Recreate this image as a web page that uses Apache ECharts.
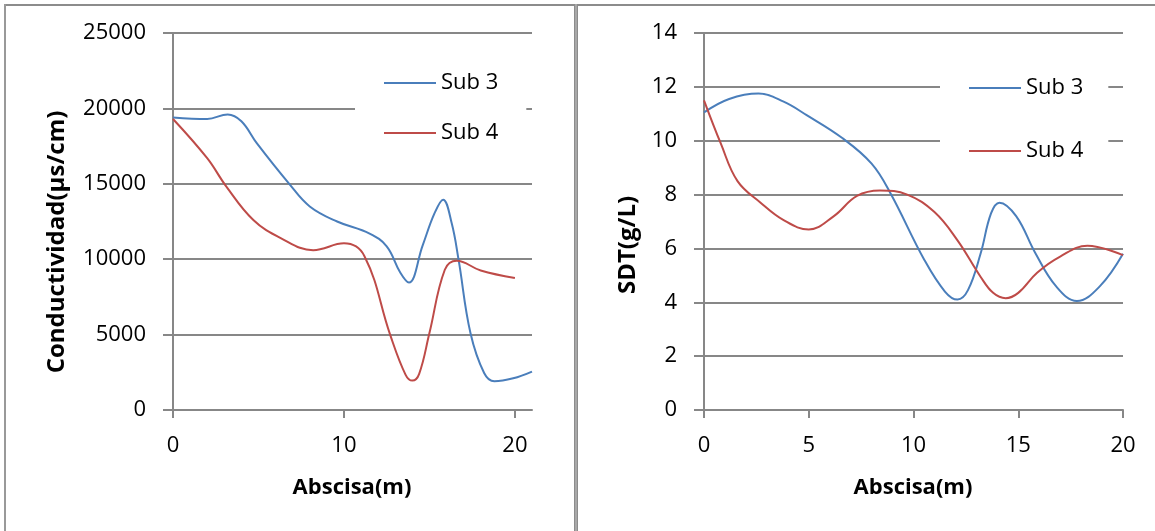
<!DOCTYPE html>
<html>
<head>
<meta charset="utf-8">
<script src="https://cdn.jsdelivr.net/npm/echarts@6/dist/echarts.min.js"></script>
<style>
  html, body { margin: 0; padding: 0; background: #fff; }
  #chart { width: 1155px; height: 531px; }
</style>
</head>
<body>
<div id="chart"></div>
<script>
// Conductividad (µs/cm) vs abscisa (m)
const condX_sub3 = [0, 2, 3.2, 4, 4.9, 6.8, 8, 9.6, 11.5, 12.5, 13.3, 13.8, 14.6, 15.3, 15.8, 16.3, 16.7, 17.4, 18.2, 18.8, 19.9, 21];
const condY_sub3 = [19400, 19300, 19600, 19150, 17700, 15000, 13500, 12500, 11700, 10850, 9100, 8450, 10900, 13050, 13950, 12400, 10000, 5100, 2450, 1900, 2100, 2550];
const condX_sub4 = [0, 2, 3.1, 4.7, 6.3, 8.2, 10, 11.2, 12.7, 13.6, 14, 14.4, 15, 15.9, 16.6, 18, 20];
const condY_sub4 = [19300, 16700, 14850, 12600, 11400, 10600, 11050, 10200, 5000, 2350, 1950, 2400, 5100, 9300, 9900, 9250, 8750];

// SDT (g/L) vs abscisa (m)
const sdtX_sub3 = [0, 1.2, 2.6, 3.8, 4.9, 6.6, 8, 8.9, 10.5, 11.5, 12.1, 12.6, 13.2, 13.7, 14.1, 14.9, 15.8, 16.8, 17.8, 18.9, 20];
const sdtY_sub3 = [11.05, 11.55, 11.75, 11.45, 10.95, 10.1, 9.15, 8.05, 5.6, 4.4, 4.1, 4.45, 5.8, 7.3, 7.7, 7.2, 5.85, 4.6, 4.05, 4.6, 5.8];
const sdtX_sub4 = [0, 0.8, 1.6, 2.7, 3.8, 5, 6.2, 7.3, 8.4, 9.7, 11, 12.1, 13.2, 13.8, 14.4, 15, 15.9, 17, 18.3, 20];
const sdtY_sub4 = [11.5, 9.9, 8.5, 7.7, 7.05, 6.7, 7.2, 7.95, 8.15, 8.0, 7.35, 6.3, 4.95, 4.35, 4.15, 4.35, 5.1, 5.7, 6.1, 5.75];

const condXTicks = [0, 10, 20];
const sdtXTicks = [0, 5, 10, 15, 20];
const seriesNames = ['Sub 3', 'Sub 4'];

const xTitle = 'Abscisa(m)';
const condTitle = 'Conductividad(µs/cm)';
const sdtTitle = 'SDT(g/L)';

const zip = (xs, ys) => xs.map((x, i) => [x, ys[i]]);

const FONT = 'Open Sans';
const GRAY = '#878787';
const BLUE = '#4A7EBB';
const RED = '#BE4B48';

const chart = echarts.init(document.getElementById('chart'), null, { renderer: 'canvas' });

function valueXAxis(gridIndex, max, interval, ticks) {
  return {
    type: 'value', gridIndex, min: 0, max, interval,
    axisLine: { show: true, lineStyle: { color: GRAY, width: 2 } },
    axisTick: { show: true, length: 8, customValues: ticks, lineStyle: { color: GRAY, width: 2 } },
    axisLabel: { customValues: ticks, margin: 25, fontFamily: FONT, fontSize: 22, color: '#000',
                 formatter: v => String(v) },
    splitLine: { show: false }
  };
}
function valueYAxis(gridIndex, max, interval) {
  return {
    type: 'value', gridIndex, min: 0, max, interval,
    axisLine: { show: true, lineStyle: { color: GRAY, width: 2 } },
    axisTick: { show: true, length: 10, lineStyle: { color: GRAY, width: 2 } },
    axisLabel: { margin: 27, fontFamily: FONT, fontSize: 22, color: '#000',
                 formatter: v => String(v) },
    splitLine: { show: true, lineStyle: { color: GRAY, width: 2 } }
  };
}
function lineSeries(name, color, idx, data) {
  return {
    name, type: 'line', xAxisIndex: idx, yAxisIndex: idx, data,
    smooth: 0.4, symbol: 'none', showSymbol: false,
    lineStyle: { color, width: 2 }, itemStyle: { color },
    emphasis: { disabled: true }
  };
}
function legendAt(left, top, gap, padRight) {
  return {
    data: seriesNames, orient: 'vertical', left, top,
    itemWidth: 52, itemHeight: 24, itemGap: gap,
    padding: [16, padRight, 16, 28],
    backgroundColor: '#fff', borderWidth: 0,
    itemStyle: { opacity: 0 },
    lineStyle: { width: 2 },
    textStyle: { fontFamily: FONT, fontSize: 22, color: '#000', lineHeight: 24 },
    selectedMode: false
  };
}
function titleText(text, x, y, rotate, size) {
  return {
    type: 'text', x, y, rotation: rotate ? Math.PI / 2 : 0,
    style: { text, fontFamily: FONT, fontSize: size, fontWeight: 'bold', fill: '#000',
             textAlign: 'center', textVerticalAlign: 'middle' }
  };
}

chart.setOption({
  animation: false,
  backgroundColor: '#fff',
  grid: [
    { left: 173, top: 33, width: 359, height: 377 },
    { left: 704, top: 33, width: 419, height: 377 }
  ],
  xAxis: [
    valueXAxis(0, 21, 10, condXTicks),
    valueXAxis(1, 20, 5, sdtXTicks)
  ],
  yAxis: [
    valueYAxis(0, 25000, 5000),
    valueYAxis(1, 14, 2)
  ],
  legend: [
    legendAt(355, 55, 26, 28),
    legendAt(940, 60, 39, 25)
  ],
  series: [
    lineSeries(seriesNames[0], BLUE, 0, zip(condX_sub3, condY_sub3)),
    lineSeries(seriesNames[1], RED, 0, zip(condX_sub4, condY_sub4)),
    lineSeries(seriesNames[0], BLUE, 1, zip(sdtX_sub3, sdtY_sub3)),
    lineSeries(seriesNames[1], RED, 1, zip(sdtX_sub4, sdtY_sub4))
  ],
  graphic: [
    // chart frames
    { type: 'rect', shape: { x: 4, y: 4, width: 1151, height: 2 }, style: { fill: '#8c8c8c' }, silent: true },
    { type: 'rect', shape: { x: 4, y: 4, width: 2, height: 527 }, style: { fill: '#999' }, silent: true },
    { type: 'rect', shape: { x: 574, y: 4, width: 4, height: 527 }, style: { fill: '#c4c4c4' }, silent: true },
    { type: 'rect', shape: { x: 574, y: 4, width: 1.5, height: 527 }, style: { fill: '#8c8c8c' }, silent: true },
    { type: 'rect', shape: { x: 576.5, y: 4, width: 1.5, height: 527 }, style: { fill: '#8c8c8c' }, silent: true },
    // axis titles
    titleText(xTitle, 352, 488, false, 22),
    titleText(xTitle, 913, 488, false, 22),
    titleText(condTitle, 57, 242, true, 24),
    titleText(sdtTitle, 628, 245, true, 24)
  ]
});
</script>
</body>
</html>
